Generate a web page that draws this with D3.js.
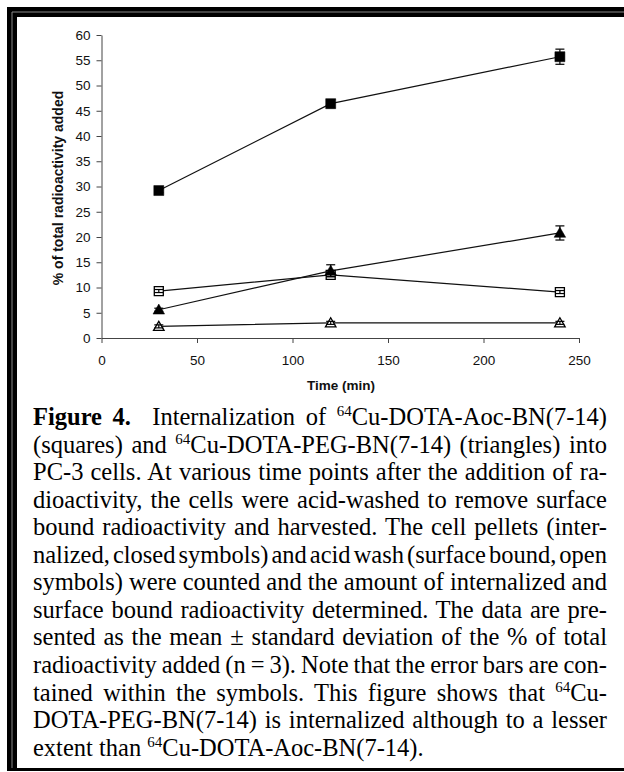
<!DOCTYPE html>
<html lang="en">
<head>
<meta charset="UTF-8">
<title>Figure 4 - Internalization</title>
<script src="https://d3js.org/d3.v7.min.js"></script>
<style>
  * { margin: 0; padding: 0; }
  body { background: #fff; width: 624px; height: 772px; overflow: hidden; }
  svg text { font-family: "Liberation Sans", Arial, sans-serif; fill: #111; }
  .caption text { font-family: "Liberation Serif", "Times New Roman", serif; fill: #000; }
</style>
</head>
<body>
<svg id="fig" width="624" height="772"></svg>
<script>
// time points (min)
const times = [30, 120, 240];

// 64Cu-DOTA-Aoc-BN(7-14) = squares, PEG = triangles
const aocInternal = [29.2, 46.4, 55.7];
const aocInternalErr = [0.4, 0.8, 1.5];
const aocSurface = [9.3, 12.5, 9.1];
const aocSurfaceErr = [0.3, 0.3, 0.3];
const pegInternal = [5.6, 13.3, 20.8];
const pegInternalErr = [0.3, 1.2, 1.4];
const pegSurface = [2.3, 3.0, 3.0];
const pegSurfaceErr = [0.3, 0.3, 0.3];

const xTicks = [0, 50, 100, 150, 200, 250];
const yTicks = [0, 5, 10, 15, 20, 25, 30, 35, 40, 45, 50, 55, 60];

const xTitle = "Time (min)";
const yTitle = "% of total radioactivity added";

const captionLines = [
  "**Figure 4.**  Internalization of {64}Cu-DOTA-Aoc-BN(7-14)",
  "(squares) and {64}Cu-DOTA-PEG-BN(7-14) (triangles) into",
  "PC-3 cells. At various time points after the addition of ra-",
  "dioactivity, the cells were acid-washed to remove surface",
  "bound radioactivity and harvested. The cell pellets (inter-",
  "nalized, closed symbols) and acid wash (surface bound, open",
  "symbols) were counted and the amount of internalized and",
  "surface bound radioactivity determined. The data are pre-",
  "sented as the mean \u00b1 standard deviation of the % of total",
  "radioactivity added (n = 3). Note that the error bars are con-",
  "tained within the symbols. This figure shows that {64}Cu-",
  "DOTA-PEG-BN(7-14) is internalized although to a lesser",
  "extent than {64}Cu-DOTA-Aoc-BN(7-14)."
];

const svg = d3.select("#fig");

// ---- frame (thick double rule left/top, thin at bottom)
svg.append("rect").attr("x", 7).attr("y", 7).attr("width", 617).attr("height", 10).attr("fill", "#000");
svg.append("rect").attr("x", 7).attr("y", 7).attr("width", 10).attr("height", 764).attr("fill", "#000");
svg.append("rect").attr("x", 7).attr("y", 768).attr("width", 617).attr("height", 3).attr("fill", "#000");
svg.append("line").attr("x1", 12).attr("x2", 624).attr("y1", 12).attr("y2", 12)
  .attr("stroke", "#888").attr("stroke-width", 1);
svg.append("line").attr("x1", 12).attr("x2", 12).attr("y1", 12).attr("y2", 768)
  .attr("stroke", "#888").attr("stroke-width", 1);

// ---- chart
const x = d3.scaleLinear().domain([0, 250]).range([101.5, 579]);
const y = d3.scaleLinear().domain([0, 60]).range([338, 35]);

const gx = svg.append("g").attr("transform", "translate(0,338)")
  .call(d3.axisBottom(x).tickValues(xTicks).tickSize(5).tickSizeOuter(0).tickPadding(12));
const gy = svg.append("g").attr("transform", "translate(101.5,0)")
  .call(d3.axisLeft(y).tickValues(yTicks).tickSize(5).tickSizeOuter(0).tickPadding(6));
[gx, gy].forEach(g => {
  g.select(".domain").attr("stroke", "#444").attr("stroke-width", 1);
  g.selectAll(".tick line").attr("stroke", "#444");
  g.selectAll(".tick text").attr("font-size", 13.5).attr("fill", "#1a1a1a")
    .style("font-family", '"Liberation Sans", Arial, sans-serif');
});

svg.append("text").attr("x", 341).attr("y", 390).attr("text-anchor", "middle")
  .attr("font-size", 13.5).attr("font-weight", "bold").text(xTitle);
svg.append("text").attr("transform", "translate(63,188) rotate(-90)").attr("text-anchor", "middle")
  .attr("font-size", 14).attr("font-weight", "bold").text(yTitle);

const series = [
  { v: aocSurface, e: aocSurfaceErr, shape: "square", filled: false },
  { v: pegSurface, e: pegSurfaceErr, shape: "triangle", filled: false },
  { v: aocInternal, e: aocInternalErr, shape: "square", filled: true },
  { v: pegInternal, e: pegInternalErr, shape: "triangle", filled: true }
];

const line = d3.line().x(d => x(d.t)).y(d => y(d.v));

series.forEach(s => {
  const pts = times.map((t, i) => ({ t: t, v: s.v[i], e: s.e[i] }));
  svg.append("path").datum(pts).attr("d", line)
    .attr("fill", "none").attr("stroke", "#111").attr("stroke-width", 1.2);
});

series.forEach(s => {
  const pts = times.map((t, i) => ({ t: t, v: s.v[i], e: s.e[i] }));
  const g = svg.append("g");
  const sym = s.shape === "square"
    ? d3.symbol().type(d3.symbolSquare).size(s.filled ? 100 : 81)
    : d3.symbol().type(d3.symbolTriangle).size(s.filled ? 58 : 48);
  g.selectAll("path.mark").data(pts).join("path").attr("class", "mark")
    .attr("transform", d => `translate(${x(d.t)},${y(d.v) + (s.shape === "triangle" ? 1 : 0)})`)
    .attr("d", sym)
    .attr("fill", s.filled ? "#000" : "#fff")
    .attr("stroke", "#000").attr("stroke-width", s.filled ? 0.5 : 1.3);

  // error bars with caps
  const eb = g.selectAll("g.err").data(pts).join("g").attr("class", "err");
  eb.append("line").attr("x1", d => x(d.t)).attr("x2", d => x(d.t))
    .attr("y1", d => y(d.v - d.e)).attr("y2", d => y(d.v + d.e))
    .attr("stroke", "#000").attr("stroke-width", 1.2);
  [-1, 1].forEach(k => {
    eb.append("line").attr("x1", d => x(d.t) - 4.5).attr("x2", d => x(d.t) + 4.5)
      .attr("y1", d => y(d.v + k * d.e)).attr("y2", d => y(d.v + k * d.e))
      .attr("stroke", "#000").attr("stroke-width", 1.2);
  });
});

// ---- caption, justified line by line
const cap = svg.append("g").attr("class", "caption");
const capLeft = 33, capWidth = 574, capTop = 425, capLead = 27.55;

captionLines.forEach((ln, i) => {
  const t = cap.append("text").attr("x", capLeft).attr("y", capTop + i * capLead)
    .attr("font-size", 24.5).attr("xml:space", "preserve");
  const parts = ln.split(/(\*\*.+?\*\*|\{\d+\})/).filter(p => p.length);
  let raised = false;
  parts.forEach(p => {
    if (p.startsWith("**")) {
      t.append("tspan").attr("font-weight", "bold").text(p.slice(2, -2));
    } else if (p.startsWith("{")) {
      t.append("tspan").attr("font-size", 15).attr("dy", -9).text(p.slice(1, -1));
      raised = true;
    } else {
      const sp = t.append("tspan").text(p);
      if (raised) { sp.attr("dy", 9); raised = false; }
    }
  });
  if (i < captionLines.length - 1) {
    const plain = parts.map(p => p.replace(/^\*\*|\*\*$/g, "").replace(/^\{|\}$/g, "")).join("");
    const nSp = (plain.match(/ /g) || []).length;
    const len = t.node().getComputedTextLength();
    if (nSp > 0) t.attr("word-spacing", (capWidth - len) / nSp);
  }
});
</script>
</body>
</html>
